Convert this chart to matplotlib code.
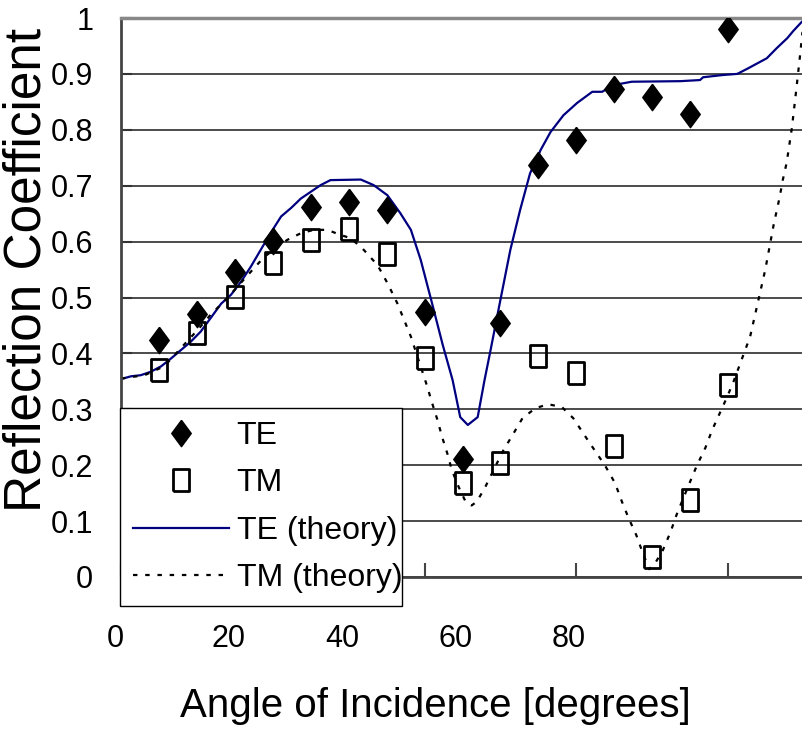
import numpy as np
import matplotlib
matplotlib.use("Agg")
import matplotlib.pyplot as plt
from matplotlib.ticker import FuncFormatter

# measured points
angle = [5, 10, 15, 20, 25, 30, 35, 40, 45, 50, 55, 60, 65, 70, 75, 80]
te_meas = [0.424, 0.470, 0.546, 0.601, 0.662, 0.671, 0.657, 0.474,
           0.211, 0.454, 0.737, 0.782, 0.873, 0.859, 0.828, 0.980]
tm_meas = [0.370, 0.436, 0.501, 0.562, 0.603, 0.623, 0.578, 0.392,
           0.168, 0.204, 0.395, 0.365, 0.234, 0.036, 0.138, 0.343]

# theory curves
te_th_x = [0, 1.3, 2.6, 3.9, 5.3, 6.6, 7.9, 9.2, 10.5, 11.8, 13.2, 14.5, 15.8,
           17.1, 18.4, 19.7, 21.1, 22.4, 23.7, 25.0, 26.3, 27.6, 31.6, 33.3,
           35.1, 36.8, 38.2, 39.5, 41.0, 42.4, 43.7, 44.7, 45.7, 47.0, 47.9,
           48.7, 50.0, 51.3, 52.6, 53.9, 55.3, 56.6, 58.3, 60.1, 62.1, 63.4,
           64.9, 67.3, 73.7, 76.3, 76.7, 79.3, 81.2, 82.5, 85.1, 86.4, 87.8,
           88.6, 89.7]
te_th_y = [0.354, 0.359, 0.361, 0.367, 0.377, 0.391, 0.406, 0.421, 0.439,
           0.463, 0.489, 0.505, 0.528, 0.555, 0.585, 0.615, 0.645, 0.660,
           0.677, 0.689, 0.701, 0.710, 0.711, 0.701, 0.683, 0.651, 0.621,
           0.567, 0.489, 0.415, 0.352, 0.286, 0.272, 0.286, 0.352, 0.406,
           0.496, 0.585, 0.657, 0.722, 0.764, 0.796, 0.826, 0.848, 0.868,
           0.868, 0.880, 0.886, 0.887, 0.889, 0.894, 0.898, 0.900, 0.909,
           0.928, 0.946, 0.964, 0.977, 0.993]

tm_th_x = [0, 3.1, 5.7, 10.1, 11.8, 14.0, 16.7, 18.9, 21.9, 23.7, 25.4, 27.2,
           28.9, 30.3, 32.0, 33.8, 35.1, 36.4, 38.2, 40.3, 41.0, 41.7, 42.3,
           43.0, 43.6, 44.5, 45.4, 46.2, 46.9, 48.0, 49.3, 50.4, 51.6, 52.9,
           54.6, 56.3, 58.1, 59.6, 61.5, 63.8, 65.1, 66.0, 66.9, 67.9, 68.7,
           69.6, 70.4, 71.4, 72.4, 73.2, 74.1, 75.1, 75.9, 77.0, 77.9, 78.9,
           79.8, 80.7, 82.9, 84.9, 86.0, 86.8, 87.2, 87.7, 88.4, 88.9, 89.4,
           89.8]
tm_th_y = [0.355, 0.361, 0.377, 0.442, 0.469, 0.499, 0.540, 0.573, 0.603,
           0.615, 0.621, 0.621, 0.612, 0.606, 0.585, 0.558, 0.526, 0.490,
           0.430, 0.343, 0.311, 0.281, 0.251, 0.221, 0.191, 0.161, 0.135,
           0.128, 0.135, 0.161, 0.197, 0.227, 0.254, 0.284, 0.302, 0.309,
           0.304, 0.284, 0.245, 0.199, 0.168, 0.135, 0.105, 0.075, 0.045,
           0.014, 0.025, 0.048, 0.080, 0.111, 0.141, 0.174, 0.200, 0.231,
           0.263, 0.293, 0.320, 0.349, 0.430, 0.550, 0.630, 0.680, 0.710,
           0.740, 0.803, 0.862, 0.923, 0.975]

xtick_labels = [0, 20, 40, 60, 80]

font = ["Liberation Sans", "DejaVu Sans"]
plt.rcParams["font.family"] = font

fig = plt.figure(figsize=(8.02, 7.31), dpi=100)
W, H = 802, 731

ax = fig.add_axes([121 / W, 1 - 577 / H, 683 / W, 559 / H])
ax.set_xlim(0, 90)
ax.set_ylim(0, 1)

ax.plot(te_th_x, te_th_y, color="#000080", lw=1.6, label="TE (theory)", zorder=2)
ax.plot(tm_th_x, tm_th_y, color="black", lw=1.6, ls=(0, (2, 3.5)),
        label="TM (theory)", zorder=2)

diamond = [(0, 0.5), (0.37, 0), (0, -0.5), (-0.37, 0), (0, 0.5)]
rect = [(-0.36, -0.5), (0.36, -0.5), (0.36, 0.5), (-0.36, 0.5), (-0.36, -0.5)]
ax.plot(angle, te_meas, ls="none", marker=diamond, ms=19, color="black",
        label="TE", zorder=3)
ax.plot(angle, tm_meas, ls="none", marker=rect, ms=16, mfc="none", mec="black",
        mew=2.0, label="TM", zorder=3)

ax.set_yticks(np.arange(0, 1.01, 0.1))
ax.yaxis.set_major_formatter(FuncFormatter(lambda v, _: f"{v:.1f}".rstrip("0").rstrip(".")))
ax.yaxis.grid(True, color="#1a1a1a", lw=1.1)
ax.set_axisbelow(True)
ax.tick_params(axis="y", direction="in", length=8, width=1.5, pad=20,
               labelsize=22, colors="#333333", labelcolor="black")

ax.set_xticks(xtick_labels)
ax.tick_params(axis="x", direction="in", length=10, width=1.5, colors="#444444",
               labelbottom=False)

for s in ["left", "bottom"]:
    ax.spines[s].set_linewidth(2)
    ax.spines[s].set_color("#444444")
ax.spines["top"].set_color("#888888")
ax.spines["top"].set_linewidth(2.5)
ax.spines["right"].set_visible(False)

# tick labels of the x axis sit on their own scale in the original
lab = fig.add_axes([115.2 / W, 1 - 577 / H, (W - 115.2) / W, 559 / H], zorder=-1)
lab.set_xlim(0, (W - 115.2) / 113.4 * 20)
lab.set_xticks(xtick_labels)
lab.set_yticks([])
lab.tick_params(axis="x", length=0, pad=34, labelsize=22)
lab.patch.set_visible(False)
for s in lab.spines.values():
    s.set_visible(False)

fig.text(435 / W, 1 - 706 / H, "Angle of Incidence [degrees]",
         fontsize=29, ha="center", va="center")
fig.text(27 / W, 1 - 270 / H, "Reflection Coefficient",
         fontsize=37, rotation=90, ha="center", va="center")

h, l = ax.get_legend_handles_labels()
order = [2, 3, 0, 1]
leg = ax.legend([h[i] for i in order], [l[i] for i in order],
                loc="upper left", mode="expand",
                bbox_to_anchor=(120 / W, 1 - 600 / H, 282 / W, 192 / H),
                bbox_transform=fig.transFigure, borderaxespad=0,
                prop={"size": 23}, fancybox=False,
                framealpha=1, edgecolor="black", borderpad=0.4,
                labelspacing=0.55, handlelength=3.0, handletextpad=0.25)
leg.get_frame().set_linewidth(1)
leg.set_zorder(5)

fig.savefig("out.png", dpi=100)
